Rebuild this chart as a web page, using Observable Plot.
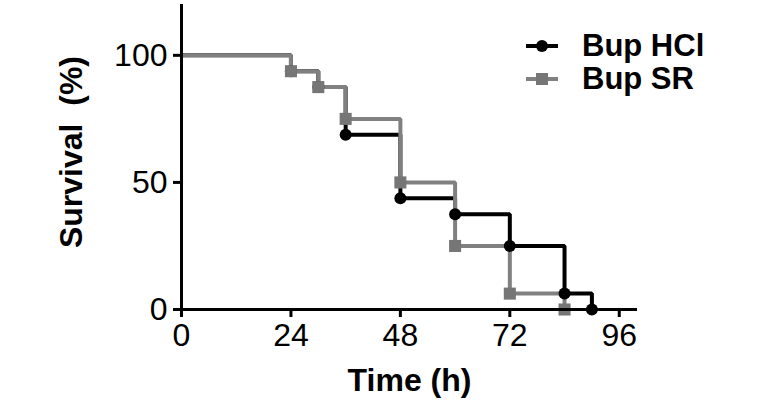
<!DOCTYPE html>
<html>
<head>
<meta charset="utf-8">
<script src="https://cdn.jsdelivr.net/npm/d3@7"></script>
<script src="https://cdn.jsdelivr.net/npm/@observablehq/plot@0.6"></script>
<style>
  html, body { margin: 0; padding: 0; background: #fff; }
  #wrap { position: relative; width: 763px; height: 407px; font-family: "Liberation Sans", Arial, Helvetica, sans-serif; color: #000; }
  #legend { position: absolute; left: 524px; top: 29px; }
  .row { display: flex; align-items: center; height: 33px; }
  .row span { font-weight: bold; font-size: 31px; margin-left: 22px; line-height: 33px; }
</style>
</head>
<body>
<div id="wrap"><div id="chart"></div><div id="legend"></div></div>
<script>
// Data (Kaplan-Meier style step curves)
const hclTime  = [0, 24, 30, 36, 48, 60, 72, 84, 90];
const hclSurv  = [100, 93.75, 87.5, 68.75, 43.75, 37.5, 25, 6.25, 0];
const srTime   = [0, 24, 30, 36, 48, 60, 72, 84];
const srSurv   = [100, 93.75, 87.5, 75, 50, 25, 6.25, 0];
const seriesNames = ["Bup HCl", "Bup SR"];
const xTicks = [0, 24, 48, 72, 96];
const yTicks = [0, 50, 100];

const BLACK = "#000000";
const GRAY = "#808080";
const GRAY_MARK = "#767676";

const hcl = hclTime.map((t, i) => ({time: t, surv: hclSurv[i]}));
const sr  = srTime.map((t, i) => ({time: t, surv: srSurv[i]}));
const hclEvents = hcl.slice(1);
const srEvents = sr.slice(1);

const chart = Plot.plot({
  width: 763,
  height: 407,
  marginLeft: 181,
  marginRight: 126,
  marginTop: 4,
  marginBottom: 98,
  style: {fontFamily: '"Liberation Sans", Arial, Helvetica, sans-serif', color: "#000", background: "#fff"},
  x: {domain: [0, 100]},
  y: {domain: [0, 120]},
  marks: [
    Plot.line(hcl, {x: "time", y: "surv", curve: "step-after", stroke: BLACK, strokeWidth: 4, strokeLinejoin: "miter"}),
    Plot.line(sr, {x: "time", y: "surv", curve: "step-after", stroke: GRAY, strokeWidth: 4, strokeLinejoin: "miter"}),
    Plot.dot(hclEvents, {x: "time", y: "surv", r: 6, fill: BLACK, stroke: "none"}),
    Plot.dot(srEvents, {x: "time", y: "surv", symbol: "square", r: 6.8, fill: GRAY_MARK, stroke: "none"}),
    Plot.ruleY([0], {stroke: BLACK, strokeWidth: 3}),
    Plot.ruleX([0], {stroke: BLACK, strokeWidth: 3}),
    Plot.axisX({ticks: xTicks, tickSize: 8, tickPadding: 6, fontSize: 32, strokeWidth: 3, label: null}),
    Plot.axisY({ticks: yTicks, tickSize: 8, tickPadding: 6, fontSize: 32, strokeWidth: 3, label: null}),
    Plot.text(["Time (h)"], {frameAnchor: "bottom", dy: 81, fontSize: 32, fontWeight: "bold", fill: BLACK}),
    Plot.text(["Survival  (%)"], {frameAnchor: "left", textAnchor: "middle", dx: -110, dy: -5, rotate: -90, fontSize: 32, fontWeight: "bold", fill: BLACK})
  ]
});
document.getElementById("chart").appendChild(chart);

// Legend
const legend = document.getElementById("legend");
const styles = [
  {color: BLACK, mark: "circle"},
  {color: GRAY, markColor: GRAY_MARK, mark: "square"}
];
seriesNames.forEach((name, i) => {
  const s = styles[i];
  const row = document.createElement("div");
  row.className = "row";
  const ns = "http://www.w3.org/2000/svg";
  const svg = document.createElementNS(ns, "svg");
  svg.setAttribute("width", 36);
  svg.setAttribute("height", 16);
  const line = document.createElementNS(ns, "line");
  line.setAttribute("x1", 2); line.setAttribute("x2", 34);
  line.setAttribute("y1", 8); line.setAttribute("y2", 8);
  line.setAttribute("stroke", s.color); line.setAttribute("stroke-width", 4);
  svg.appendChild(line);
  if (s.mark === "circle") {
    const c = document.createElementNS(ns, "circle");
    c.setAttribute("cx", 18); c.setAttribute("cy", 8); c.setAttribute("r", 6);
    c.setAttribute("fill", s.color);
    svg.appendChild(c);
  } else {
    const r = document.createElementNS(ns, "rect");
    r.setAttribute("x", 12); r.setAttribute("y", 2); r.setAttribute("width", 12); r.setAttribute("height", 12);
    r.setAttribute("fill", s.markColor);
    svg.appendChild(r);
  }
  row.appendChild(svg);
  const label = document.createElement("span");
  label.textContent = name;
  row.appendChild(label);
  legend.appendChild(row);
});
</script>
</body>
</html>
